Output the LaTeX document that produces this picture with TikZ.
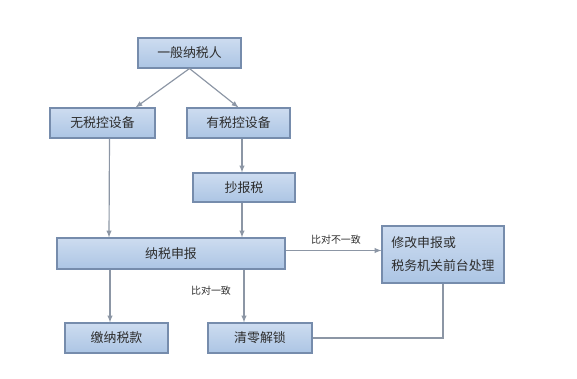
\documentclass[tikz,border=0pt]{standalone}
\usepackage{fontspec}
\usepackage{tikz}
\setmainfont{Noto Sans CJK SC}
\definecolor{boxTop}{RGB}{205,220,240}
\definecolor{boxBot}{RGB}{172,197,228}
\definecolor{boxLine}{RGB}{118,140,172}
\definecolor{flowLine}{RGB}{140,150,165}
\definecolor{txtGray}{RGB}{45,45,45}

\begin{document}
\begin{tikzpicture}[x=0.03cm,y=0.03cm, flowbox/.style={draw=boxLine,line width=0.9pt,top color=boxTop,bottom color=boxBot,inner sep=0pt,text=txtGray,font=\fontsize{11}{15}\selectfont,preaction={fill=black,opacity=0.12,transform canvas={xshift=1pt,yshift=-1pt}}}, flowarrow/.style={draw=flowLine,line width=1pt,-latex}, flowlabel/.style={text=txtGray,font=\fontsize{8.5}{10}\selectfont,inner sep=1pt}]
            \useasboundingbox (0,0) rectangle (577,378);
            \node[flowbox,minimum width=103*0.03cm,minimum height=30*0.03cm] (taxpayer) at (189.5,325) {一般纳税人};
            \node[flowbox,minimum width=105*0.03cm,minimum height=30*0.03cm] (nodev) at (102.5,255) {无税控设备};
            \node[flowbox,minimum width=103*0.03cm,minimum height=30*0.03cm] (hasdev) at (238.5,255) {有税控设备};
            \node[flowbox,minimum width=102*0.03cm,minimum height=29*0.03cm] (copytax) at (244,190.5) {抄报税};
            \node[flowbox,minimum width=228*0.03cm,minimum height=31*0.03cm] (declare) at (171,124.5) {纳税申报};
            \node[flowbox,minimum width=122*0.03cm,minimum height=57*0.03cm,align=left,font=\fontsize{11}{19.5}\selectfont] (revise) at (443,123.5) {修改申报或\\税务机关前台处理};
            \node[flowbox,minimum width=103*0.03cm,minimum height=30*0.03cm] (paytax) at (116.5,40) {缴纳税款};
            \node[flowbox,minimum width=104*0.03cm,minimum height=30*0.03cm] (unlock) at (260,40) {清零解锁};

            \node[flowlabel] (mismatch) at (336,138) {比对不一致};
            \node[flowlabel] (match) at (211,87) {比对一致};

            \draw[flowarrow] (taxpayer.south) -- ([xshift=33*0.03cm]nodev.north);
            \draw[flowarrow] (taxpayer.south) -- (hasdev.north);
            \draw[flowarrow] ([xshift=7*0.03cm]nodev.south) -- ([xshift=-62*0.03cm]declare.north);
            \draw[flowarrow] ([xshift=3.5*0.03cm]hasdev.south) -- ([xshift=-2*0.03cm]copytax.north);
            \draw[flowarrow] ([xshift=-2*0.03cm]copytax.south) -- ([xshift=71*0.03cm]declare.north);
            \draw[flowarrow] ([yshift=3*0.03cm]declare.east) -- ([yshift=4*0.03cm]revise.west);
            \draw[flowarrow] ([xshift=-61*0.03cm]declare.south) -- ([xshift=-6.5*0.03cm]paytax.north);
            \draw[flowarrow] ([xshift=73*0.03cm]declare.south) -- ([xshift=-16*0.03cm]unlock.north);
            \draw[draw=flowLine,line width=1pt] (revise.south) |- (unlock.east);
        \end{tikzpicture}
\end{document}
